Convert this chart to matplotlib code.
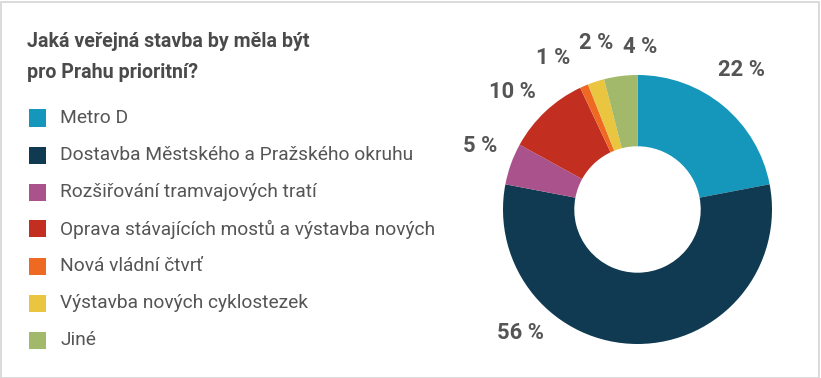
import matplotlib
matplotlib.use("Agg")
import matplotlib.pyplot as plt
from matplotlib.patches import Rectangle

categories = ["Metro D",
              "Dostavba Městského a Pražského okruhu",
              "Rozšiřování tramvajových tratí",
              "Oprava stávajících mostů a výstavba nových",
              "Nová vládní čtvrť",
              "Výstavba nových cyklostezek",
              "Jiné"]
values = [22, 56, 5, 10, 1, 2, 4]
colors = ["#1596bb", "#0f3a52", "#a9528b", "#c22e20", "#ee6a22", "#eac540", "#a2b96b"]
title = "Jaká veřejná stavba by měla být\npro Prahu prioritní?"

# label positions around the ring (in units of the outer radius)
label_pos = [(0.77, 1.04), (-0.87, -0.92), (-1.17, 0.47), (-0.93, 0.87),
             (-0.63, 1.13), (-0.31, 1.24), (0.02, 1.21)]

plt.rcParams['font.family'] = ['Roboto', 'DejaVu Sans']

W, H = 821, 378
fig = plt.figure(figsize=(W / 100, H / 100), dpi=100)
fig.patches.append(Rectangle((0.5 / W, 0.5 / H), (W - 2.5) / W, (H - 2.5) / H,
                             transform=fig.transFigure, fill=False,
                             edgecolor="#d4d4d4", linewidth=1.2))


def fit(text, width_px, **kw):
    # font size that makes the text about width_px wide
    t = fig.text(0, 0, text, fontsize=10, **kw)
    w = t.get_window_extent(fig.canvas.get_renderer()).width
    t.remove()
    return 10 * width_px / w


# donut
R = 134.5
cx, cy = 637.5, H - 209.5
span = 1.5 * R
ax = fig.add_axes([(cx - span) / W, (cy - span) / H, 2 * span / W, 2 * span / H])
ax.pie(values, colors=colors, startangle=90, counterclock=False,
       radius=1, wedgeprops=dict(width=0.53, linewidth=0))
ax.set_xlim(-1.5, 1.5)
ax.set_ylim(-1.5, 1.5)
ax.set_aspect("equal")
ax.axis("off")
pct_size = fit("22 %", 47, fontweight="bold")
for v, (x, y) in zip(values, label_pos):
    ax.text(x, y, f"{v} %", ha="center", va="center", fontsize=pct_size,
            fontweight="bold", color="#555555")

# title and legend
title_size = fit(title.split("\n")[0], 284, fontweight="bold")
fig.text(27 / W, 1 - 57 / H, title, ha="left", va="center", fontsize=title_size,
         fontweight="bold", color="#4a4a4a", linespacing=1.75)
leg_size = fit(categories[3], 375)
y0, dy = 118, 37
for i, (name, c) in enumerate(zip(categories, colors)):
    y = y0 + i * dy
    fig.patches.append(Rectangle((29 / W, 1 - (y + 8.5) / H), 17 / W, 17 / H,
                                 transform=fig.transFigure, facecolor=c,
                                 edgecolor="none"))
    fig.text(60 / W, 1 - y / H, name, ha="left", va="center", fontsize=leg_size,
             color="#555555")

plt.savefig("out.png", dpi=100)
